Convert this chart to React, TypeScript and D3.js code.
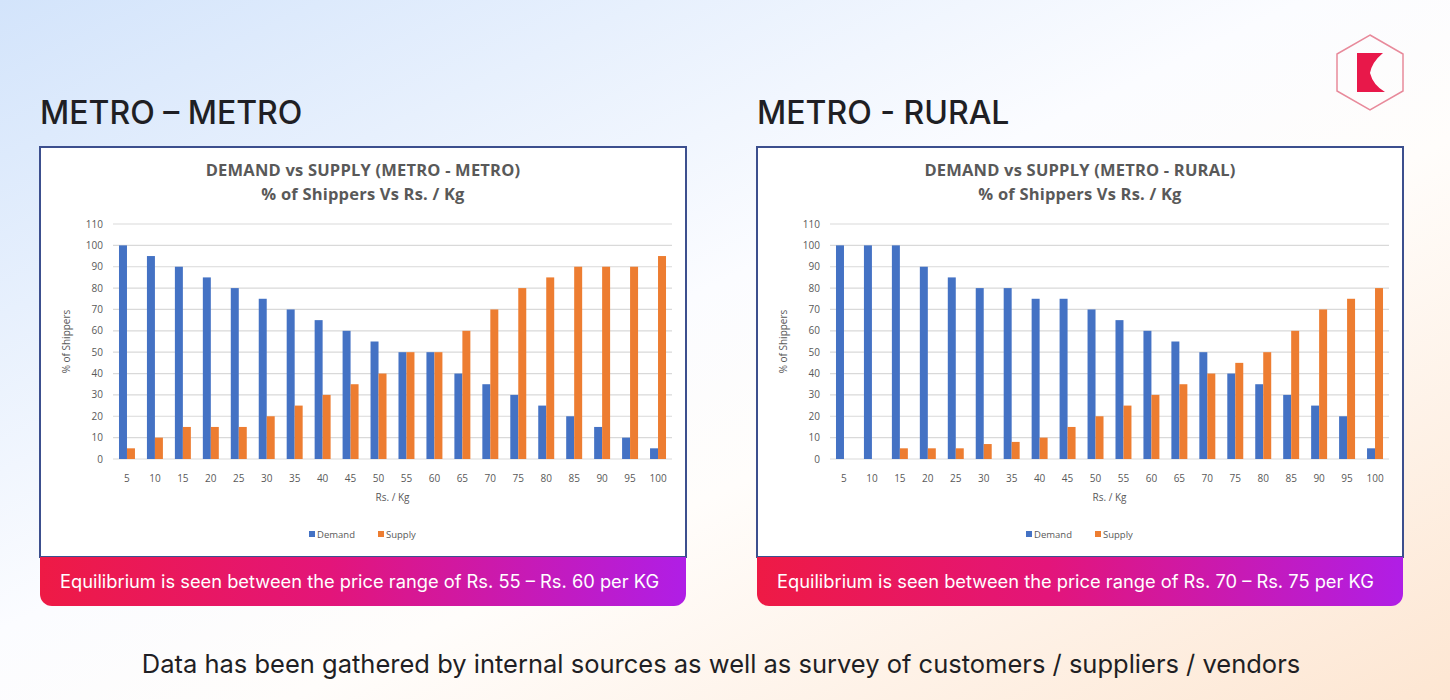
import * as d3 from "d3";

const prices = ["5", "10", "15", "20", "25", "30", "35", "40", "45", "50", "55", "60", "65", "70", "75", "80", "85", "90", "95", "100"];
const metroDemand = [100, 95, 90, 85, 80, 75, 70, 65, 60, 55, 50, 50, 40, 35, 30, 25, 20, 15, 10, 5];
const metroSupply = [5, 10, 15, 15, 15, 20, 25, 30, 35, 40, 50, 50, 60, 70, 80, 85, 90, 90, 90, 95];
const ruralDemand = [100, 100, 100, 90, 85, 80, 80, 75, 75, 70, 65, 60, 55, 50, 40, 35, 30, 25, 20, 5];
const ruralSupply = [0, 0, 5, 5, 5, 7, 8, 10, 15, 20, 25, 30, 35, 40, 45, 50, 60, 70, 75, 80];
const yTicks = [0, 10, 20, 30, 40, 50, 60, 70, 80, 90, 100, 110];
const seriesNames = ["Demand", "Supply"];

const BLUE = "#4472c4";
const ORANGE = "#ed7d31";
const GRAY = "#595959";

function Panel({ left, heading, title, demand, supply, note }) {
  const top = 147;
  const w = 646;
  const h = 410;
  const x = d3.scaleBand().domain(prices).range([73, 632]).padding(0);
  const sub = d3.scaleBand().domain(seriesNames).range([0, x.bandwidth()]).paddingInner(0).paddingOuter(0.75);
  const y = d3.scaleLinear().domain([0, 110]).range([312, 77]);
  const color = d3.scaleOrdinal().domain(seriesNames).range([BLUE, ORANGE]);
  const rows = prices.map((p, i) => ({ p, Demand: demand[i], Supply: supply[i] }));
  const cx = w / 2;

  return (
    <g transform={`translate(${left},0)`}>
      <text x={0} y={124} fontFamily="Inter" fontWeight={500} fontSize={32} fill="#1f1f24">{heading}</text>
      <g transform={`translate(0,${top})`}>
        <rect x={0} y={0} width={w} height={h} fill="#fff" stroke="#3c4f8e" strokeWidth={2} />
        <text x={cx} y={29} textAnchor="middle" fontFamily="Open Sans" fontWeight={700} fontSize={16.5} letterSpacing={0.2} fill={GRAY}>{title}</text>
        <text x={cx} y={53} textAnchor="middle" fontFamily="Open Sans" fontWeight={700} fontSize={16.5} letterSpacing={0.2} fill={GRAY}>% of Shippers Vs Rs. / Kg</text>
        {yTicks.map((t) => (
          <g key={t}>
            <line x1={73} x2={632} y1={y(t)} y2={y(t)} stroke="#d9d9d9" strokeWidth={1.2} />
            <text x={63} y={y(t)} dy="0.35em" textAnchor="end" fontFamily="Open Sans" fontSize={10} fill={GRAY}>{t}</text>
          </g>
        ))}
        {rows.map((r) => (
          <g key={r.p} transform={`translate(${x(r.p)},0)`}>
            {seriesNames.map((s) => (
              <rect key={s} x={sub(s)} y={y(r[s])} width={sub.bandwidth()} height={y(0) - y(r[s])} fill={color(s)} />
            ))}
            <text x={x.bandwidth() / 2} y={335} textAnchor="middle" fontFamily="Open Sans" fontSize={10} fill={GRAY}>{r.p}</text>
          </g>
        ))}
        <text x={(73 + 632) / 2} y={354} textAnchor="middle" fontFamily="Open Sans" fontSize={10} fill={GRAY}>Rs. / Kg</text>
        <text transform={`translate(30,${y(55)}) rotate(-90)`} textAnchor="middle" fontFamily="Open Sans" fontSize={10} fill={GRAY}>% of Shippers</text>
        <g transform={`translate(${cx - 54},388)`}>
          {seriesNames.map((s, i) => (
            <g key={s} transform={`translate(${i * 69},0)`}>
              <rect x={0} y={-4} width={6} height={6} fill={color(s)} />
              <text x={8} y={0} dy="0.3em" fontFamily="Open Sans" fontSize={9.5} fill={GRAY}>{s}</text>
            </g>
          ))}
        </g>
        <path d={`M0,${h} H${w} V${h + 37} a12,12 0 0 1 -12,12 H12 a12,12 0 0 1 -12,-12 Z`} fill="url(#banner)" />
        <text x={20} y={h + 31} fontFamily="Inter" fontSize={18.3} fill="#fff">{note}</text>
      </g>
    </g>
  );
}

export default function App() {
  return (
    <svg width={1450} height={700} style={{ position: "absolute", left: 0, top: 0 }}>
      <defs>
        <linearGradient id="bg" x1="0" y1="0" x2="1" y2="1">
          <stop offset="0" stopColor="#d3e4fb" />
          <stop offset="0.45" stopColor="#fbfcff" />
          <stop offset="0.6" stopColor="#fffdfb" />
          <stop offset="1" stopColor="#fde6d2" />
        </linearGradient>
        <linearGradient id="banner" x1="0" y1="0" x2="1" y2="0">
          <stop offset="0" stopColor="#ee1a45" />
          <stop offset="0.45" stopColor="#e3157a" />
          <stop offset="1" stopColor="#b01ee6" />
        </linearGradient>
      </defs>
      <rect width={1450} height={700} fill="url(#bg)" />
      <g>
        <polygon points="1370,35 1403,54 1403,91 1370,110 1337,91 1337,54" fill="none" stroke="#e88a9b" strokeWidth={1.5} />
        <path d="M1357,53 H1383 Q1372,62 1370,73 Q1373,85 1385,92 H1357 Z" fill="#e8184a" />
      </g>
      <Panel left={40} heading="METRO – METRO" title="DEMAND vs SUPPLY (METRO - METRO)" demand={metroDemand} supply={metroSupply} note="Equilibrium is seen between the price range of Rs. 55 – Rs. 60 per KG" />
      <Panel left={757} heading="METRO - RURAL" title="DEMAND vs SUPPLY (METRO - RURAL)" demand={ruralDemand} supply={ruralSupply} note="Equilibrium is seen between the price range of Rs. 70 – Rs. 75 per KG" />
      <text x={721} y={673} textAnchor="middle" fontFamily="Inter" fontSize={25.5} fill="#1f1f24">Data has been gathered by internal sources as well as survey of customers / suppliers / vendors</text>
    </svg>
  );
}
